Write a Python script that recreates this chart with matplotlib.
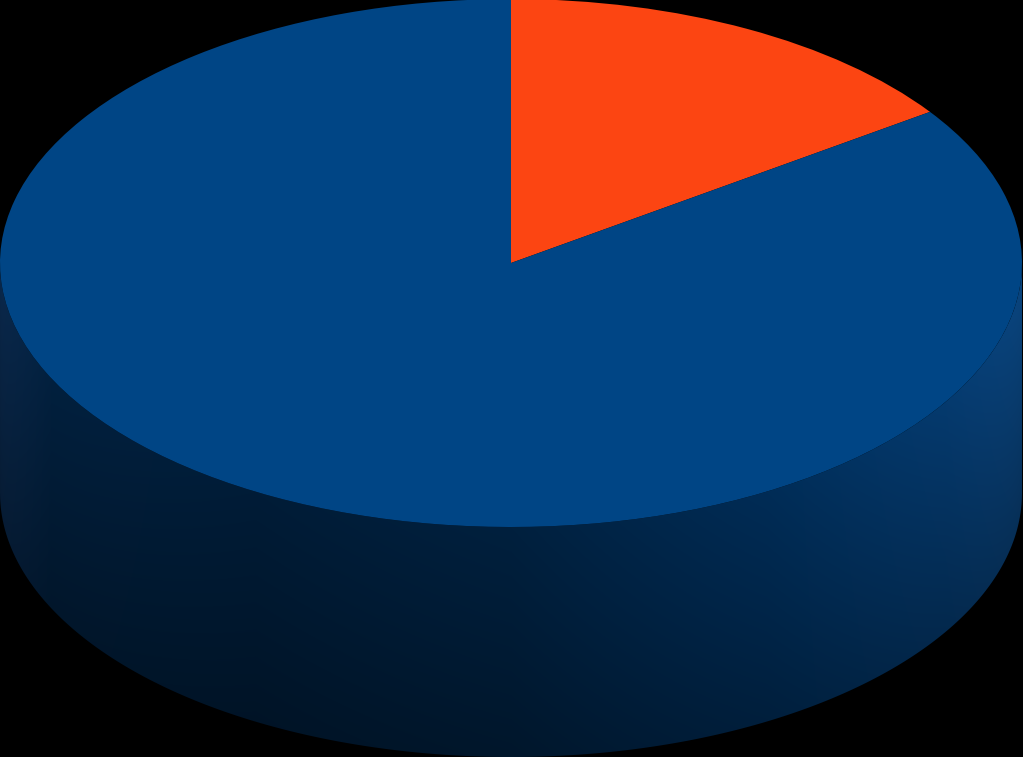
import numpy as np
import matplotlib
matplotlib.use("Agg")
import matplotlib.pyplot as plt
from matplotlib.path import Path
from matplotlib.patches import PathPatch

# slice values (clockwise from 12 o'clock)
labels = ["A", "B"]
values = [15.3, 84.7]
colors = ["#fc4512", "#004585"]

W, H = 1023, 757
cx, cy = 511, 263      # centre of top face (pixels)
rx, ry = 511, 264      # radii of top face
depth = 230            # height of cylinder side

fig = plt.figure(figsize=(W / 100, H / 100), dpi=100, facecolor="black")
ax = fig.add_axes([0, 0, 1, 1])
ax.set_facecolor("black")
ax.set_xlim(0, W)
ax.set_ylim(H, 0)
ax.axis("off")

# side of the cylinder: lower half of the top ellipse + lower half of bottom ellipse
t = np.linspace(0, np.pi, 300)
top_x = cx - rx * np.cos(t)
top_y = cy + ry * np.sin(t)
bot_x = top_x[::-1]
bot_y = top_y[::-1] + depth
verts = np.column_stack([np.r_[top_x, bot_x], np.r_[top_y, bot_y]])
verts = np.vstack([verts, verts[:1]])
codes = [Path.MOVETO] + [Path.LINETO] * (len(verts) - 2) + [Path.CLOSEPOLY]
side = PathPatch(Path(verts, codes), facecolor="none", edgecolor="none")
ax.add_patch(side)

# shading of the side
xx, yy = np.meshgrid(np.arange(W), np.arange(H))
u = (xx - cx) / rx
anchors_u = [-1.0, -0.9, -0.5, 0.0, 0.5, 0.85, 1.0]
anchors_c = np.array([[10, 40, 75], [2, 32, 62], [0, 28, 55], [0, 32, 62],
                      [0, 44, 86], [5, 58, 110], [10, 68, 125]]) / 255.0
img = np.zeros((H, W, 3))
for k in range(3):
    img[..., k] = np.interp(u, anchors_u, anchors_c[:, k])
edge_y = cy + ry * np.sqrt(np.clip(1 - u ** 2, 0, 1))
v = np.clip((yy - edge_y) / depth, 0, 1)
img *= (1 - 0.3 * v)[..., None]
im = ax.imshow(img, extent=(0, W, H, 0), origin="upper", zorder=1)
im.set_clip_path(side)

# top face as a pie
top_ax = fig.add_axes([0, (H - (cy + ry)) / H, (2 * rx) / W, (2 * ry) / H])
top_ax.pie(values, colors=colors, startangle=90, counterclock=False,
           radius=1, wedgeprops=dict(linewidth=0))
top_ax.set_aspect("auto")
top_ax.set_xlim(-1, 1)
top_ax.set_ylim(-1, 1)
top_ax.axis("off")

fig.savefig("out.png", dpi=100, facecolor="black")
